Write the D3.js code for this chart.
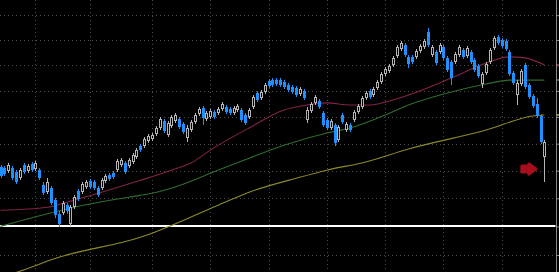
<!DOCTYPE html>
<html>
<head>
<meta charset="utf-8">
<script src="https://cdn.jsdelivr.net/npm/d3@7"></script>
<style>
    html, body { margin:0; padding:0; background:#000; overflow:hidden; }
    svg { display:block; }
</style>
</head>
<body>
<script>
// daily candles
var opens = [
    5513, 5509, 5498, 5509, 5495, 5473, 5520, 5498, 5524, 5506,
    5502, 5447, 5422, 5436, 5393, 5343, 5346, 5375, 5307, 5368,
    5425, 5422, 5440, 5462, 5458, 5436, 5436, 5462, 5484, 5491,
    5502, 5520, 5528, 5517, 5532, 5550, 5591, 5591, 5610, 5617,
    5636, 5659, 5685, 5632, 5666, 5685, 5692, 5674, 5621, 5651,
    5681, 5712, 5735, 5692, 5700, 5719, 5715, 5731, 5738, 5731,
    5715, 5727, 5727, 5708, 5700, 5738, 5792, 5773, 5796, 5839,
    5842, 5842, 5842, 5835, 5823, 5815, 5811, 5788, 5800, 5689,
    5723, 5754, 5761, 5715, 5689, 5659, 5670, 5613, 5708, 5651,
    5670, 5689, 5719, 5738, 5773, 5800, 5784, 5811, 5835, 5866,
    5877, 5901, 5936, 5964, 5980, 5933, 5933, 5933, 5956, 5972,
    6032, 5940, 5952, 5952, 5972, 5929, 5913, 5913, 5940, 5960,
    5936, 5952, 5921, 5897, 5827, 5870, 5913, 5968, 6012, 6000,
    5996, 5952, 5870, 5784, 5827, 5901, 5823, 5780, 5750, 5704, 5550
];
var highs = [
    5520, 5517, 5528, 5517, 5502, 5509, 5528, 5524, 5532, 5535,
    5509, 5458, 5473, 5444, 5400, 5354, 5389, 5382, 5375, 5411,
    5433, 5458, 5465, 5469, 5465, 5444, 5473, 5487, 5491, 5498,
    5543, 5546, 5535, 5546, 5565, 5583, 5598, 5625, 5636, 5640,
    5666, 5700, 5692, 5685, 5708, 5715, 5700, 5681, 5670, 5689,
    5715, 5738, 5742, 5723, 5731, 5727, 5738, 5757, 5746, 5738,
    5742, 5750, 5735, 5715, 5735, 5784, 5800, 5804, 5831, 5846,
    5850, 5850, 5850, 5842, 5831, 5823, 5819, 5815, 5807, 5738,
    5757, 5784, 5769, 5723, 5696, 5692, 5677, 5670, 5715, 5681,
    5677, 5727, 5750, 5780, 5800, 5807, 5815, 5842, 5874, 5893,
    5905, 5936, 5980, 5996, 5988, 5940, 5940, 5964, 5984, 6004,
    6048, 5980, 5960, 5988, 5980, 5936, 5921, 5952, 5980, 5968,
    5976, 5960, 5929, 5905, 5874, 5913, 5968, 6016, 6020, 6008,
    6004, 5960, 5877, 5842, 5885, 5909, 5831, 5788, 5773, 5712, 5613
];
var lows = [
    5473, 5480, 5491, 5465, 5451, 5465, 5487, 5491, 5495, 5498,
    5465, 5411, 5415, 5375, 5329, 5297, 5339, 5343, 5300, 5361,
    5389, 5415, 5433, 5433, 5429, 5404, 5429, 5455, 5462, 5469,
    5495, 5513, 5487, 5509, 5524, 5543, 5569, 5583, 5602, 5610,
    5628, 5651, 5640, 5625, 5659, 5677, 5655, 5636, 5606, 5644,
    5674, 5704, 5670, 5685, 5692, 5692, 5708, 5723, 5712, 5708,
    5708, 5719, 5681, 5670, 5692, 5731, 5757, 5765, 5788, 5811,
    5815, 5819, 5815, 5807, 5796, 5788, 5777, 5780, 5765, 5677,
    5715, 5746, 5731, 5662, 5651, 5651, 5591, 5606, 5674, 5644,
    5644, 5681, 5712, 5731, 5765, 5769, 5777, 5804, 5827, 5858,
    5870, 5893, 5929, 5956, 5933, 5889, 5905, 5925, 5948, 5964,
    5972, 5933, 5901, 5944, 5921, 5874, 5823, 5905, 5933, 5925,
    5929, 5905, 5874, 5850, 5811, 5862, 5905, 5960, 5980, 5968,
    5956, 5858, 5823, 5746, 5819, 5807, 5769, 5735, 5696, 5598, 5458
];
var closes = [
    5480, 5487, 5520, 5473, 5458, 5502, 5495, 5517, 5502, 5528,
    5473, 5418, 5458, 5382, 5339, 5307, 5382, 5354, 5368, 5404,
    5396, 5451, 5458, 5440, 5436, 5411, 5465, 5480, 5469, 5476,
    5535, 5539, 5495, 5539, 5557, 5576, 5576, 5617, 5628, 5632,
    5659, 5692, 5647, 5677, 5700, 5708, 5662, 5644, 5659, 5681,
    5708, 5731, 5696, 5715, 5723, 5700, 5731, 5750, 5719, 5715,
    5735, 5742, 5689, 5677, 5727, 5777, 5765, 5796, 5823, 5819,
    5823, 5827, 5823, 5815, 5804, 5796, 5784, 5807, 5773, 5727,
    5750, 5777, 5738, 5670, 5659, 5685, 5602, 5662, 5681, 5674,
    5651, 5719, 5742, 5773, 5792, 5777, 5807, 5835, 5866, 5885,
    5897, 5929, 5972, 5988, 5940, 5905, 5913, 5956, 5976, 5996,
    5980, 5972, 5909, 5980, 5929, 5881, 5850, 5944, 5972, 5933,
    5968, 5913, 5881, 5858, 5866, 5905, 5960, 6008, 5988, 5976,
    5964, 5866, 5831, 5831, 5877, 5815, 5777, 5742, 5704, 5606, 5606
];

// moving averages, read at a few candles
var ma50Index  = [0, 12, 17, 26, 36, 44, 49, 54, 64, 73, 79, 84, 90, 95, 99, 105, 116, 125, 131, 135, 140];
var ma50Values = [5357, 5368, 5386, 5422, 5465, 5502, 5528, 5576, 5659, 5727, 5746, 5754, 5746, 5746, 5757, 5784, 5850, 5909, 5933, 5929, 5901];
var ma100Index  = [0, 19, 33, 39, 47, 54, 64, 73, 84, 90, 99, 105, 116, 125, 131, 140];
var ma100Values = [5300, 5368, 5404, 5418, 5451, 5491, 5546, 5594, 5640, 5659, 5708, 5746, 5796, 5827, 5842, 5842];
var ma200Index  = [0, 4, 15, 36, 39, 56, 64, 77, 84, 94, 105, 125, 137, 140];
var ma200Values = [5125, 5140, 5192, 5262, 5276, 5375, 5422, 5476, 5502, 5532, 5580, 5651, 5704, 5708];

// price grid and date grid (candle index)
var priceTicks = [5200, 5300, 5400, 5500, 5600, 5700, 5800, 5900, 6000, 6100];
var gridIndex = [9, 23, 39, 54, 69, 84, 99, 114, 129];
var supportLevel = 5300;
var signalIndex = 136, signalPrice = 5506;

window.onload = function(){

    var width = 559, height = 272;
    var axisX = 556.5;
    var upColor = '#b4b4b4', downColor = '#1e90ff';

    function createSVG(){
        return d3.select(document.body)
            .append('svg')
            .attr('width', width)
            .attr('height', height)
            .style('background', '#000');
    }

    var x = d3.scaleLinear().domain([0, closes.length - 1]).range([0.5, 544.4]);
    var y = d3.scaleLog().domain([5200, 6000]).range([255, 40]);

    function snap(v){ return Math.round(v) + 0.5; }

    function drawGrid(svg){
        var g = svg.append('g')
            .attr('stroke', '#4e4e4e')
            .attr('stroke-dasharray', '1,3');
        g.selectAll('line.h').data(priceTicks).enter()
            .append('line')
            .attr('x1', 0).attr('x2', axisX)
            .attr('y1', function(d){ return snap(y(d)); })
            .attr('y2', function(d){ return snap(y(d)); });
        g.selectAll('line.v').data(gridIndex).enter()
            .append('line')
            .attr('y1', 0).attr('y2', height)
            .attr('x1', function(d){ return snap(x(d)); })
            .attr('x2', function(d){ return snap(x(d)); });
    }

    function drawAxis(svg){
        var axis = d3.axisRight(y).tickValues(priceTicks).tickSize(3).tickFormat('');
        var g = svg.append('g').attr('transform', 'translate(' + axisX + ',0)').call(axis);
        g.select('.domain').attr('stroke', '#8a8a8a').attr('d', 'M0,0V' + height);
        g.selectAll('.tick line').attr('stroke', '#8a8a8a');
    }

    function drawMA(svg, idx, vals, color){
        var pts = idx.map(function(d, k){ return [d, vals[k]]; });
        var line = d3.line()
            .x(function(d){ return x(d[0]); })
            .y(function(d){ return y(d[1]); })
            .curve(d3.curveMonotoneX);
        svg.append('path')
            .attr('d', line(pts))
            .attr('fill', 'none')
            .attr('stroke', color)
            .attr('stroke-width', 1.1);
        // last value mark on the price axis
        svg.append('rect')
            .attr('x', axisX + 0.5).attr('y', Math.round(y(vals[vals.length - 1])) - 1)
            .attr('width', 3).attr('height', 2)
            .attr('fill', color);
    }

    function drawCandles(svg){
        var data = d3.range(closes.length).map(function(i){
            return {i:i, o:opens[i], h:highs[i], l:lows[i], c:closes[i]};
        });
        var isUp = function(d){ return d.c >= d.o; };
        var g = svg.append('g');

        g.selectAll('line').data(data).enter()
            .append('line')
            .attr('x1', function(d){ return snap(x(d.i)); })
            .attr('x2', function(d){ return snap(x(d.i)); })
            .attr('y1', function(d){ return Math.round(y(d.h)); })
            .attr('y2', function(d){ return Math.round(y(d.l)); })
            .attr('stroke', function(d){ return isUp(d) ? upColor : downColor; });

        g.selectAll('rect').data(data).enter()
            .append('rect')
            .attr('x', function(d){ return isUp(d) ? Math.round(x(d.i)) - 0.5 : Math.round(x(d.i)) - 1; })
            .attr('width', function(d){ return isUp(d) ? 2 : 3; })
            .attr('y', function(d){ return isUp(d) ? Math.round(y(d.c)) + 0.5 : Math.round(y(d.o)); })
            .attr('height', function(d){
                if(isUp(d)) return Math.max(0, Math.round(y(d.o)) - Math.round(y(d.c)) - 1);
                return Math.max(1, Math.round(y(d.c)) - Math.round(y(d.o)));
            })
            .attr('fill', function(d){ return isUp(d) ? '#000' : downColor; })
            .attr('stroke', function(d){ return isUp(d) ? upColor : 'none'; })
            .attr('stroke-width', 1);
    }

    function drawSupport(svg){
        svg.append('line')
            .attr('x1', 0).attr('x2', axisX - 1)
            .attr('y1', Math.round(y(supportLevel))).attr('y2', Math.round(y(supportLevel)))
            .attr('stroke', '#ffffff')
            .attr('stroke-width', 2);
    }

    function drawSignal(svg){
        svg.append('path')
            .attr('transform', 'translate(' + x(signalIndex) + ',' + y(signalPrice) + ')')
            .attr('d', 'M-7,-3L0,-3L0,-5L7,0L0,5L0,3L-7,3Z')
            .attr('fill', '#a80f1c')
            .attr('stroke', '#a80f1c')
            .attr('stroke-width', 3)
            .attr('stroke-linejoin', 'round');
    }

    ////////////////////////// run

    var svg = createSVG();
    drawGrid(svg);
    drawAxis(svg);
    drawSupport(svg);
    drawMA(svg, ma200Index, ma200Values, '#8e8a2c');
    drawMA(svg, ma100Index, ma100Values, '#2f6c2f');
    drawMA(svg, ma50Index, ma50Values, '#82234a');
    drawCandles(svg);
    drawSignal(svg);
}
</script>
</body>
</html>
